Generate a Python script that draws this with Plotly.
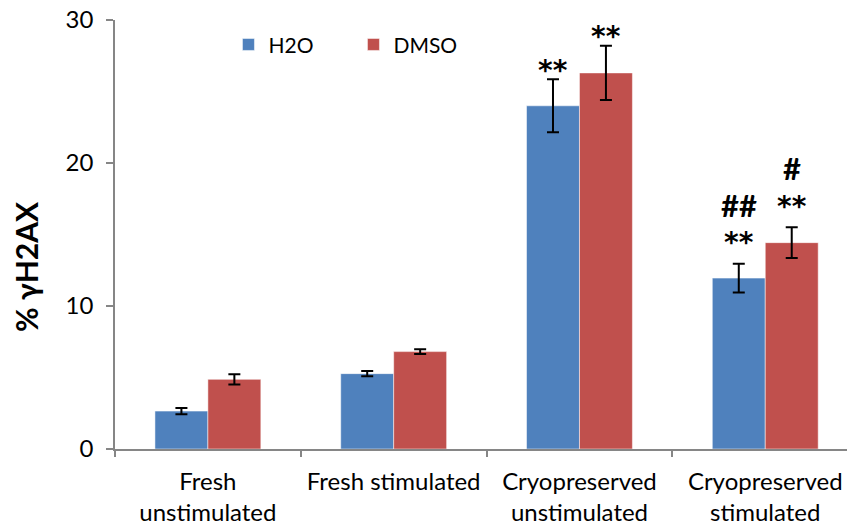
import plotly.graph_objects as go

# Percentage of γH2AX-positive cells per condition
categories = ["Fresh<br>unstimulated", "Fresh stimulated",
              "Cryopreserved<br>unstimulated", "Cryopreserved<br>stimulated"]
h2o_values = [2.65, 5.27, 24.0, 11.95]
h2o_errors = [0.22, 0.18, 1.85, 1.0]
dmso_values = [4.87, 6.81, 26.3, 14.43]
dmso_errors = [0.36, 0.16, 1.9, 1.08]

# Significance marks stacked above each bar, bottom to top
h2o_marks = [[], [], ["**"], ["**", "##"]]
dmso_marks = [[], [], ["**"], ["**", "#"]]

BLUE = "#4F81BD"
RED = "#C0504D"
AXIS = "#868686"
FONT = "Lato, Open Sans, sans-serif"

fig = go.Figure()
fig.add_trace(go.Bar(
    name="H2O", x=categories, y=h2o_values, marker_color=BLUE,
    marker_line=dict(color="rgba(255,255,255,0.5)", width=1),
    error_y=dict(type="data", array=h2o_errors, color="black", thickness=2, width=6),
))
fig.add_trace(go.Bar(
    name="DMSO", x=categories, y=dmso_values, marker_color=RED,
    marker_line=dict(color="rgba(255,255,255,0.5)", width=1),
    error_y=dict(type="data", array=dmso_errors, color="black", thickness=2, width=6),
))

# Marks sit above each error-bar cap
half_bar = 26.5
gap_first = {2: 12, 3: 24}
gap_step = 35
for marks, vals, errs, shift in ((h2o_marks, h2o_values, h2o_errors, -half_bar),
                                 (dmso_marks, dmso_values, dmso_errors, half_bar)):
    for i, stack in enumerate(marks):
        for k, mark in enumerate(stack):
            star = mark.startswith("*")
            fig.add_annotation(
                x=categories[i], y=vals[i] + errs[i], xshift=shift,
                yshift=gap_first.get(i, 12) + k * gap_step - (3 if star else 0),
                yanchor="middle", showarrow=False, text=mark,
                font=dict(family="DejaVu Sans" if star else FONT,
                          size=28 if star else 31, color="black", weight="bold"),
            )

# Vertical axis title
fig.add_annotation(
    xref="paper", yref="paper", x=-0.1216, y=0.4266, xanchor="center", yanchor="middle",
    text="% γH2AX", textangle=-90, showarrow=False,
    font=dict(size=30, family=FONT, weight="bold", color="black"),
)

fig.update_layout(
    width=847, height=528,
    margin=dict(l=115, r=0, t=20, b=79),
    paper_bgcolor="white", plot_bgcolor="white",
    barmode="group", bargap=0.43, bargroupgap=0,
    font=dict(family=FONT, color="black"),
    showlegend=True,
    legend=dict(orientation="h", x=0.155, y=0.99, xanchor="left", yanchor="top",
                font=dict(size=21, family=FONT), entrywidth=80, bgcolor="rgba(0,0,0,0)",
                traceorder="normal"),
)
fig.update_xaxes(
    type="category", range=[-0.5, 3.44],
    showline=True, linecolor=AXIS, linewidth=1.5,
    ticks="outside", tickson="boundaries", ticklen=6, tickcolor=AXIS, tickwidth=1.5,
    tickfont=dict(size=24, family=FONT), ticklabelstandoff=10, showgrid=False,
)
fig.update_yaxes(
    range=[0, 30], tickvals=[0, 10, 20, 30],
    showline=True, linecolor=AXIS, linewidth=1.5,
    ticks="outside", ticklen=7, tickcolor=AXIS, tickwidth=1.5,
    tickfont=dict(size=24, family=FONT), ticklabelstandoff=8, showgrid=False, zeroline=False,
)

fig.write_html("out.html")
